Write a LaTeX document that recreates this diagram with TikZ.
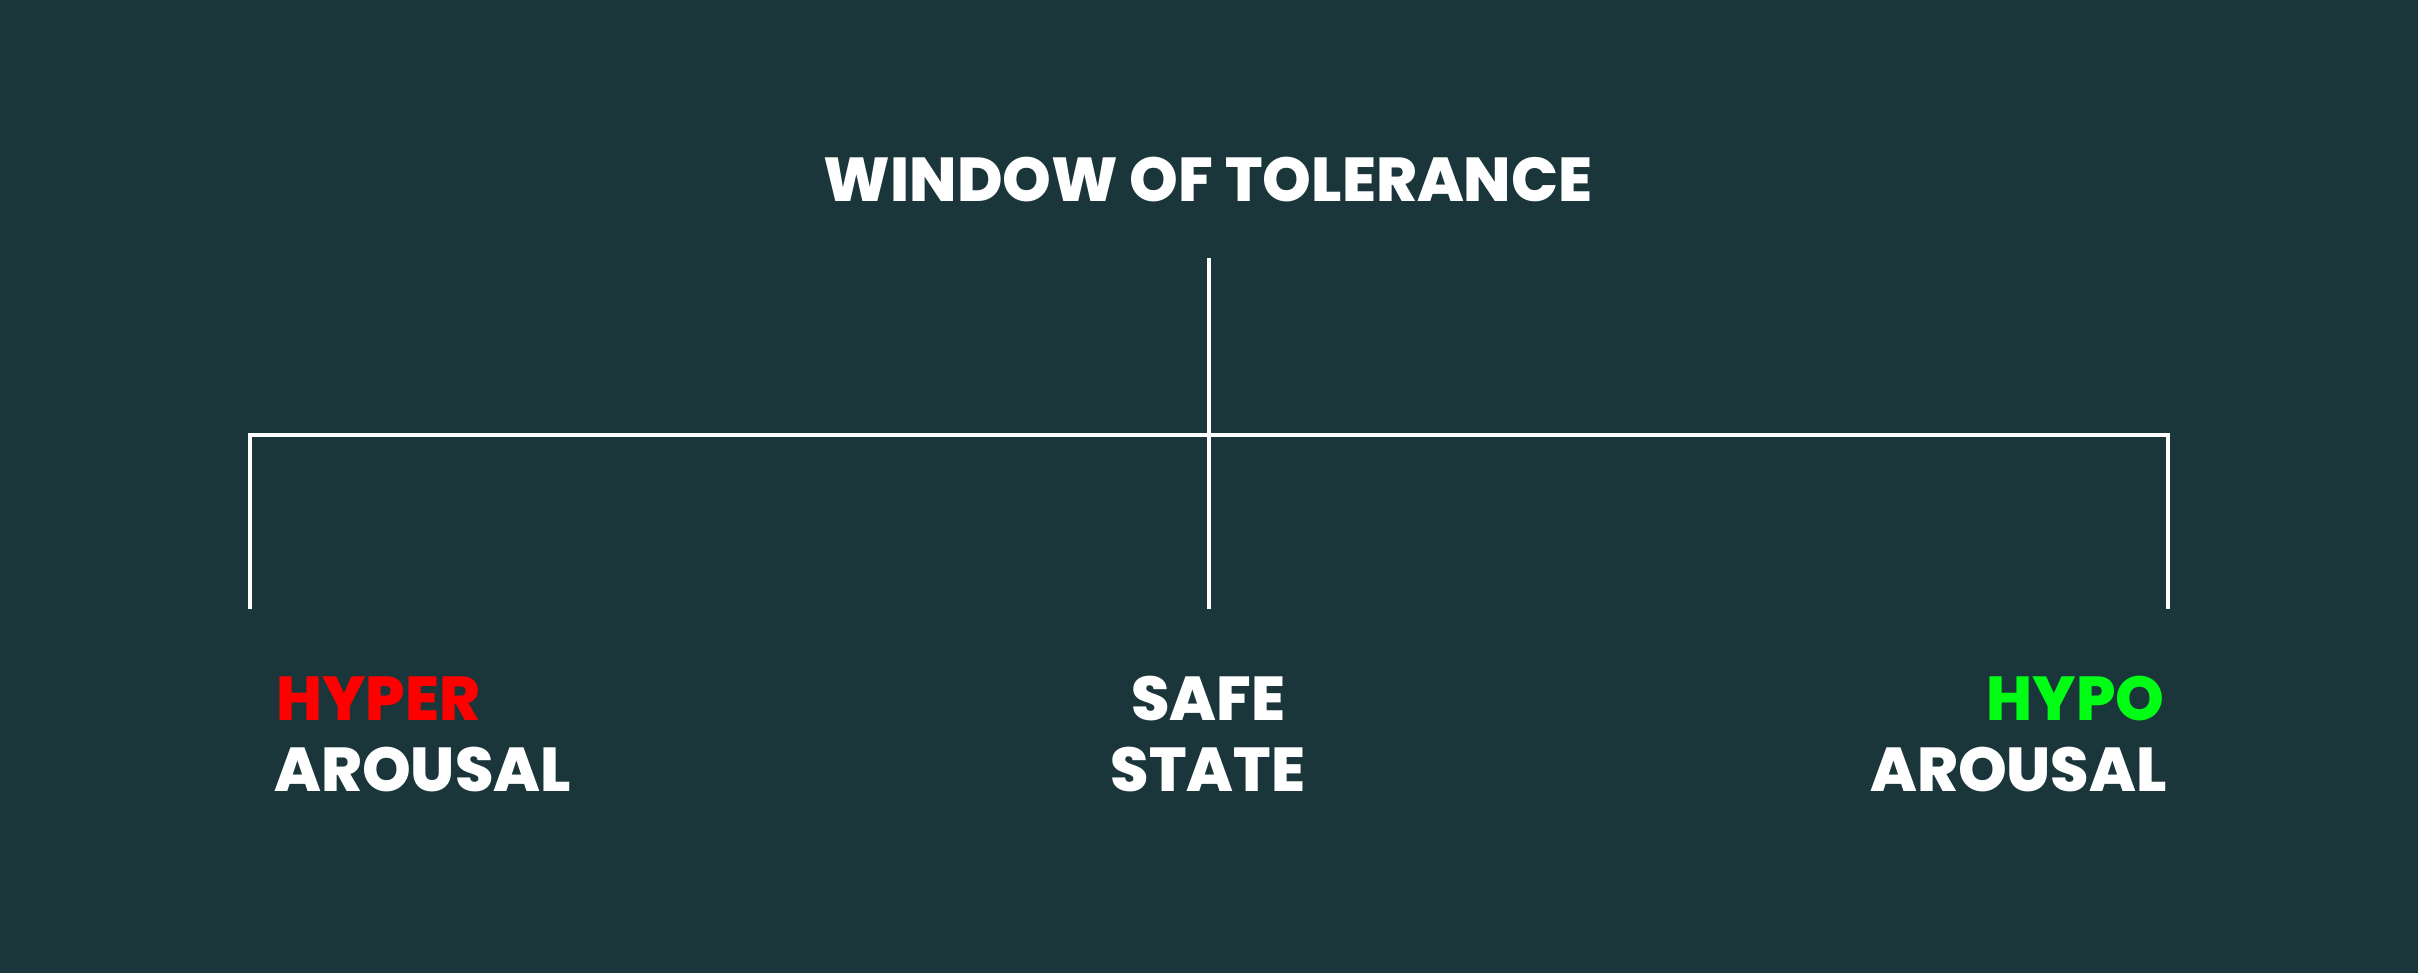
\documentclass[tikz,border=0pt]{standalone}
\usepackage{fontspec}
\setmainfont{Poppins}[BoldFont={* ExtraBold}]
\definecolor{bgteal}{RGB}{26,54,58}
\definecolor{hyperred}{RGB}{255,0,0}
\definecolor{hypogreen}{RGB}{0,255,20}
\begin{document}
\begin{tikzpicture}[x=0.5pt,y=-0.5pt,
  lbl/.style={inner sep=0pt,text=white,font=\bfseries\fontsize{31}{36}\selectfont},
  tree/.style={draw=white,line width=2.4pt}]
\fill[bgteal] (0,0) rectangle (2418,973);
\useasboundingbox (0,0) rectangle (2418,973);
\node[lbl,anchor=base] (title) at (1208,202) {WINDOW OF TOLERANCE};
\coordinate (top) at (1209,258);
\coordinate (mid) at (1209,435);
\coordinate (bot) at (1209,609);
\coordinate (lt) at (250,435);
\coordinate (lb) at (250,609);
\coordinate (rt) at (2168,435);
\coordinate (rb) at (2168,609);
\draw[tree] (top) -- (bot);
\draw[tree] (lb) -- (lt) -- (rt) -- (rb);
\node[lbl,anchor=base west,text=hyperred] (hyper) at (276,720) {HYPER};
\node[lbl,anchor=base west] (aro1) at (274,791) {AROUSAL};
\node[lbl,anchor=base] (safe) at (1208,720) {SAFE};
\node[lbl,anchor=base] (state) at (1208,791) {STATE};
\node[lbl,anchor=base east,text=hypogreen] (hypo) at (2165,720) {HYPO};
\node[lbl,anchor=base east] (aro2) at (2167,791) {AROUSAL};
\end{tikzpicture}
\end{document}
